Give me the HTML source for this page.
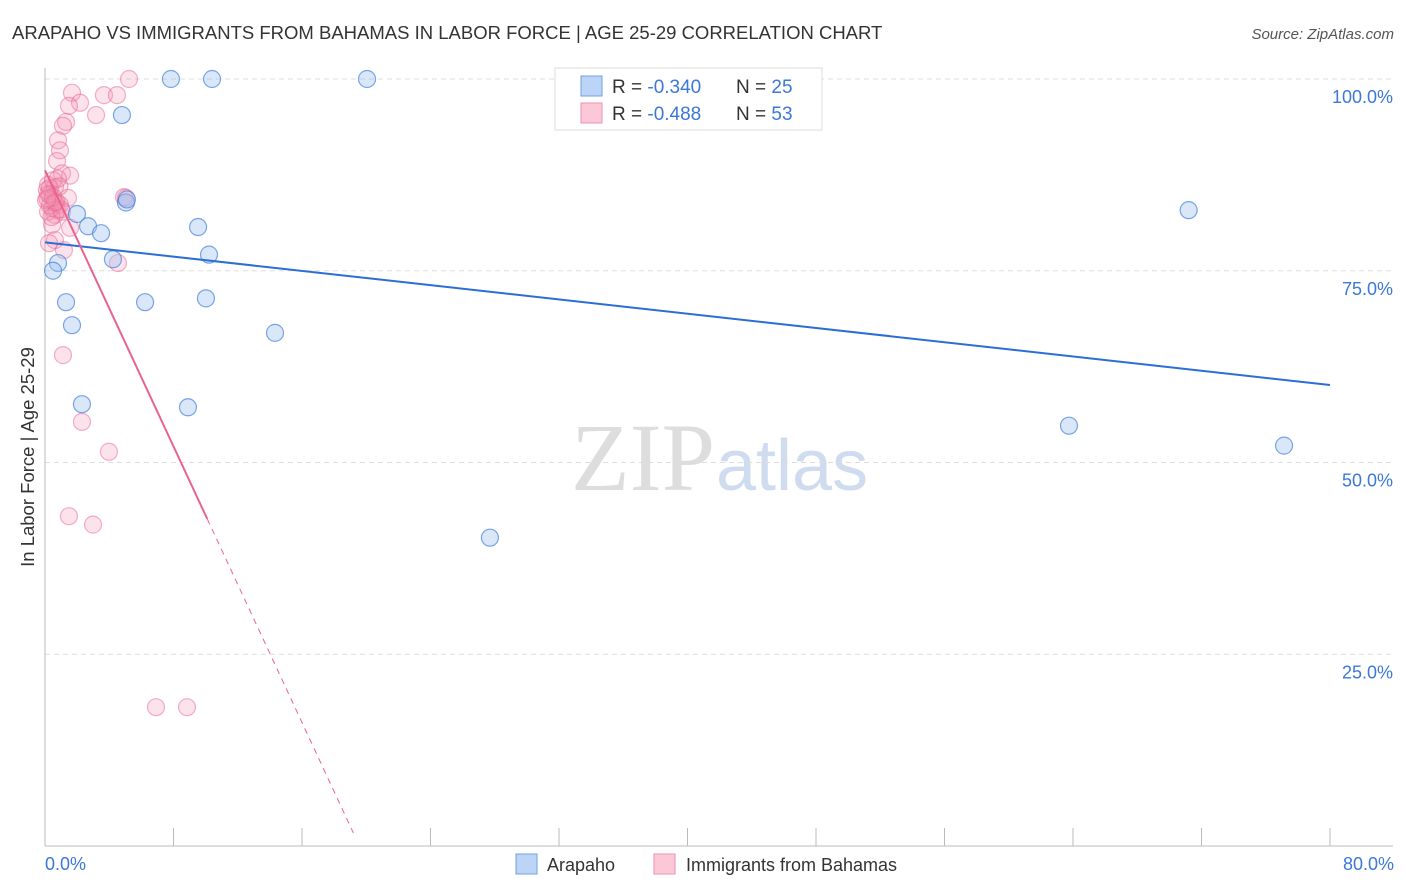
<!DOCTYPE html>
<html><head><meta charset="utf-8"><style>
body{margin:0;background:#fff;font-family:"Liberation Sans",sans-serif}
svg{display:block}
</style></head><body>
<svg id="c" width="1406" height="892">
<text x="12" y="39" font-size="18.5" fill="#333">ARAPAHO VS IMMIGRANTS FROM BAHAMAS IN LABOR FORCE | AGE 25-29 CORRELATION CHART</text>
<text x="1394" y="39" font-size="15" fill="#555" font-style="italic" text-anchor="end">Source: ZipAtlas.com</text>
<text x="715" y="490" font-size="96" fill="#ddd" text-anchor="end" font-family="Liberation Serif">ZIP</text>
<text x="716" y="490" font-size="72" fill="#cfdcf0">atlas</text>
<g id="grid"></g><g id="axes"></g><g id="pts"></g><g id="lines"></g>
<text transform="translate(34,457) rotate(-90)" font-size="18.5" fill="#333" text-anchor="middle">In Labor Force | Age 25-29</text>
<text x="45" y="870" font-size="18" fill="#3b78d8">0.0%</text>
<text x="1394" y="870" font-size="18" fill="#3b78d8" text-anchor="end">80.0%</text>
<g>
<rect x="555" y="68" width="267" height="62" fill="#fff" stroke="#ddd"/>
<rect x="581" y="76" width="21" height="20" fill="#bcd4f5" stroke="#6f9fe0"/>
<rect x="581" y="103" width="21" height="20" fill="#fbc8d8" stroke="#ef8fb0"/>
<text x="612" y="93" font-size="19" fill="#333">R = <tspan fill="#3b78d8">-0.340</tspan></text>
<text x="736" y="93" font-size="19" fill="#333">N = <tspan fill="#3b78d8">25</tspan></text>
<text x="612" y="120" font-size="19" fill="#333">R = <tspan fill="#3b78d8">-0.488</tspan></text>
<text x="736" y="120" font-size="19" fill="#333">N = <tspan fill="#3b78d8">53</tspan></text>
</g>
<g>
<rect x="516" y="854" width="21" height="20" fill="#bcd4f5" stroke="#6f9fe0"/>
<text x="547" y="871" font-size="18" fill="#333">Arapaho</text>
<rect x="654" y="854" width="21" height="20" fill="#fbc8d8" stroke="#ef8fb0"/>
<text x="686" y="871" font-size="18" fill="#333">Immigrants from Bahamas</text>
</g>
</svg>
<script>
const yTicks=[100,75,50,25];
const yTickLabels=["100.0%","75.0%","50.0%","25.0%"];
const xTicks=[0,8,16,24,32,40,48,56,64,72,80];
const blueX=[7.84,10.4,20.05,4.79,5.04,1.99,2.68,3.49,9.53,10.21,4.23,0.81,0.5,1.31,6.23,10.02,1.68,14.32,2.3,8.9,63.75,77.14,27.7,71.2,5.1];
const blueY=[100,100,100,95.3,83.9,82.4,80.8,79.9,80.7,77.1,76.5,76.0,75.0,70.9,70.9,71.4,67.9,66.9,57.6,57.2,54.8,52.2,40.2,82.9,84.3];
const pinkX=[5.23,3.67,4.48,1.68,2.18,1.49,3.18,1.31,1.12,0.81,0.93,0.75,1.06,1.56,0.19,0.62,0.31,1.43,4.92,5.04,0.93,0.44,0.75,0.19,0.62,1.06,1.56,0.62,0.25,1.18,4.54,1.12,2.3,3.98,1.49,2.99,6.91,8.84,0.44,0.06,0.12,0.5,0.3,0.7,0.2,0.9,1.0,0.4,0.5,0.3,0.8,0.6,0.15];
const pinkY=[100,97.9,97.9,98.2,96.9,96.5,95.3,94.4,93.9,92.0,90.7,89.3,87.7,87.4,86.2,85.9,84.9,84.5,84.6,84.5,83.6,83.2,82.9,82.7,82.3,82.7,80.6,79.0,78.6,77.7,76.0,64.0,55.3,51.4,43.0,41.9,18.1,18.1,81.0,84.2,85.5,86.8,83.5,84.0,85.0,86.0,83.0,82.0,84.6,85.8,87.0,83.9,84.4];
const blueFit=[78.7,-0.2325];
const pinkFit=[88.1,-4.5];
const pinkSolidEnd=10.1, pinkDashEnd=19.2;
const X=v=>45+v*1285/80, Y=v=>846-v*7.67;
const NS="http://www.w3.org/2000/svg";
function mk(tag,attrs,parent){const e=document.createElementNS(NS,tag);for(const k in attrs)e.setAttribute(k,attrs[k]);document.getElementById(parent).appendChild(e);return e;}
yTicks.forEach((t,i)=>{
 const l=mk('line',{x1:45,x2:1393,y1:Y(t),y2:Y(t),stroke:'#ddd','stroke-dasharray':'5,4'},'grid');
 
 
 const tx=mk('text',{x:1393,y:Y(t)+24,'font-size':18,fill:'#3b78d8','text-anchor':'end'},'grid');
 tx.textContent=yTickLabels[i];
 
 
});
let a=mk('line',{x1:45,x2:45,y1:68,y2:846,stroke:'#bbb'},'axes');


a=mk('line',{x1:45,x2:1393,y1:846,y2:846,stroke:'#bbb'},'axes');


xTicks.forEach(t=>{
 const l=mk('line',{x1:X(t),x2:X(t),y1:828,y2:846,stroke:'#bbb'},'axes');
 
 
});
pinkX.forEach((v,i)=>{
 const c=mk('circle',{cx:X(v),cy:Y(pinkY[i]),r:8.5,fill:'rgba(244,143,177,0.25)',stroke:'rgba(232,100,145,0.5)','stroke-width':1.2},'pts');
 
 
});
blueX.forEach((v,i)=>{
 const c=mk('circle',{cx:X(v),cy:Y(blueY[i]),r:8.5,fill:'rgba(160,195,240,0.4)',stroke:'rgba(70,130,220,0.7)','stroke-width':1.2},'pts');
 
 
});
let t=mk('line',{x1:X(0),y1:Y(blueFit[0]),x2:X(80),y2:Y(blueFit[0]+blueFit[1]*80),stroke:'#2a6fd6','stroke-width':2},'lines');


t=mk('line',{x1:X(0),y1:Y(pinkFit[0]),x2:X(pinkSolidEnd),y2:Y(pinkFit[0]+pinkFit[1]*pinkSolidEnd),stroke:'#e8648f','stroke-width':2},'lines');


t=mk('line',{x1:X(pinkSolidEnd),y1:Y(pinkFit[0]+pinkFit[1]*pinkSolidEnd),x2:X(pinkDashEnd),y2:Y(pinkFit[0]+pinkFit[1]*pinkDashEnd),stroke:'#e8648f','stroke-width':1,'stroke-dasharray':'6,5'},'lines');


</script>
</body></html>
